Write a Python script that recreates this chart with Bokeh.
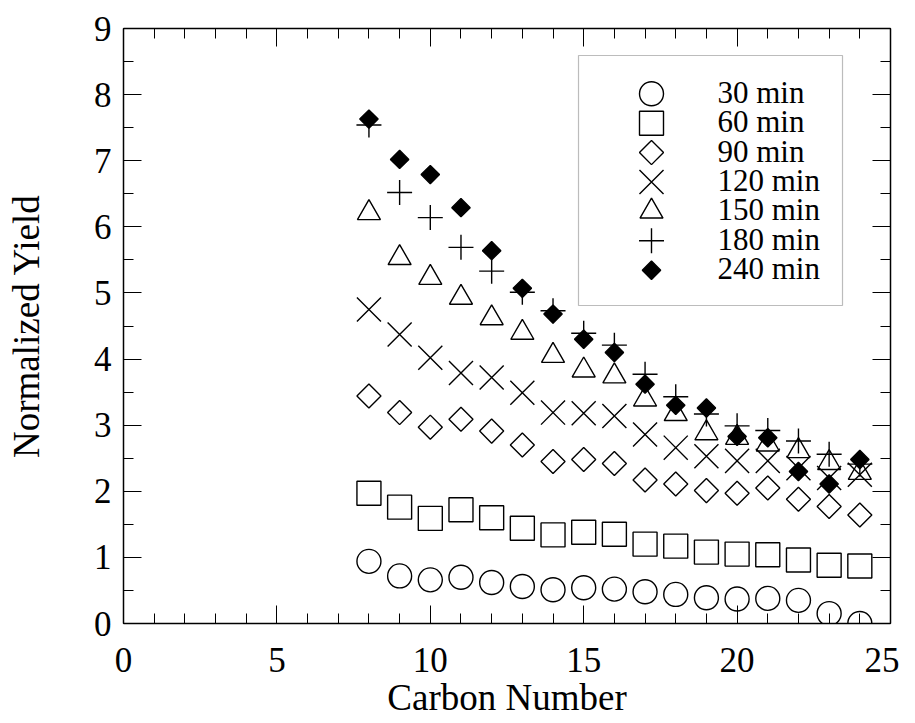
import math
from bokeh.plotting import figure
from bokeh.models import (LinearAxis, SingleIntervalTicker, Range1d, BoxAnnotation)
from bokeh.core.properties import value
from bokeh.embed import file_html
from bokeh.resources import INLINE

carbon = list(range(8, 25))
y30 = [0.94, 0.72, 0.66, 0.70, 0.62, 0.56, 0.51, 0.54, 0.52, 0.48, 0.44, 0.39, 0.37, 0.38, 0.35, 0.15, 0.00]
y60 = [1.97, 1.76, 1.59, 1.72, 1.60, 1.44, 1.34, 1.38, 1.35, 1.20, 1.17, 1.08, 1.05, 1.04, 0.96, 0.88, 0.87]
y90 = [3.44, 3.19, 2.97, 3.09, 2.91, 2.70, 2.45, 2.48, 2.42, 2.17, 2.11, 2.01, 1.97, 2.05, 1.88, 1.77, 1.64]
y120 = [4.75, 4.37, 4.02, 3.79, 3.72, 3.49, 3.19, 3.18, 3.14, 2.86, 2.66, 2.53, 2.46, 2.46, 2.35, 2.20, 2.25]
y150 = [6.21, 5.53, 5.23, 4.93, 4.62, 4.40, 4.05, 3.83, 3.74, 3.39, 3.17, 2.88, 2.81, 2.71, 2.61, 2.43, 2.28]
y180 = [7.54, 6.52, 6.14, 5.69, 5.33, 5.01, 4.73, 4.39, 4.21, 3.77, 3.43, 3.17, 2.99, 2.92, 2.76, 2.56, 2.41]
y240 = [7.63, 7.02, 6.79, 6.29, 5.64, 5.07, 4.68, 4.30, 4.10, 3.62, 3.30, 3.26, 2.83, 2.81, 2.30, 2.11, 2.48]
labels = ["30 min", "60 min", "90 min", "120 min", "150 min", "180 min", "240 min"]

FONT = "'Liberation Serif'"
X0, X1, Y0, Y1 = 0, 25, 0, 9
FW, FH = 767, 595

p = figure(frame_width=FW, frame_height=FH, output_backend="svg", toolbar_location=None,
           x_range=Range1d(X0, X1), y_range=Range1d(Y0, Y1),
           min_border_left=123, min_border_right=9, min_border_top=28, min_border_bottom=84,
           background_fill_color="white", border_fill_color="white")
p.xgrid.visible = False
p.ygrid.visible = False
p.outline_line_color = None

def style_axis(ax, show_labels):
    ax.axis_line_color = "black"
    ax.axis_line_width = 1.5
    ax.major_tick_line_color = "black"
    ax.minor_tick_line_color = "black"
    ax.major_tick_line_width = 1
    ax.minor_tick_line_width = 1
    ax.major_tick_in = 18
    ax.major_tick_out = 0
    ax.minor_tick_in = 10
    ax.minor_tick_out = 0
    ax.major_label_text_font = FONT
    ax.major_label_text_font_size = "35px"
    ax.major_label_text_color = "black"
    ax.axis_label_text_font = FONT
    ax.axis_label_text_font_size = "37px"
    ax.axis_label_text_font_style = "normal"
    ax.axis_label_text_color = "black"
    if not show_labels:
        ax.major_label_text_font_size = "0px"
        ax.major_label_text_color = None

p.xaxis.ticker = SingleIntervalTicker(interval=5, num_minor_ticks=5)
p.yaxis.ticker = SingleIntervalTicker(interval=1, num_minor_ticks=2)
style_axis(p.xaxis[0], True)
style_axis(p.yaxis[0], True)
p.xaxis.axis_label = "Carbon Number"
p.yaxis.axis_label = "Normalized Yield"
p.xaxis.major_label_standoff = 24
p.yaxis.major_label_standoff = 12
p.xaxis.axis_label_standoff = 2
p.yaxis.axis_label_standoff = 44

top = LinearAxis(ticker=SingleIntervalTicker(interval=5, num_minor_ticks=5))
right = LinearAxis(ticker=SingleIntervalTicker(interval=1, num_minor_ticks=2))
style_axis(top, False)
style_axis(right, False)
p.add_layout(top, "above")
p.add_layout(right, "right")

LW = 1.4
styles = [
    dict(marker="circle", size=24, fill_color=None, line_color="black", line_width=LW),
    dict(marker="square", size=24, fill_color=None, line_color="black", line_width=LW),
    dict(marker="square", size=17, angle=math.pi / 4, fill_color=None, line_color="black", line_width=LW),
    dict(marker="x", size=34, line_color="black", line_width=LW),
    dict(marker="triangle", size=23, fill_color=None, line_color="black", line_width=LW),
    dict(marker="cross", size=25, line_color="black", line_width=LW),
    dict(marker="square", size=13, angle=math.pi / 4, fill_color="black", line_color="black", line_width=LW),
]
series = [y30, y60, y90, y120, y150, y180, y240]

for ys, st in zip(series, styles):
    p.scatter(x=carbon, y=ys, **st)

# legend (placed in pixel offsets from the frame, converted to data units)
def dx(px):
    return X0 + px / FW * (X1 - X0)

def dy(py_from_top):
    return Y1 - py_from_top / FH * (Y1 - Y0)

box = BoxAnnotation(left=dx(455), right=dx(719), top=dy(27), bottom=dy(277),
                    fill_color="white", fill_alpha=1.0, line_color="#222222", line_width=1.2,
                    level="underlay")
p.add_layout(box)
row0, rstep = 65.3, 29.4
for i, st in enumerate(styles):
    p.scatter(x=[dx(528)], y=[dy(row0 + i * rstep)], **st)
p.text(x=[dx(594)] * len(labels), y=[dy(row0 + i * rstep - 1.5) for i in range(len(labels))],
       text=labels, text_font=value(FONT), text_font_size="31px", text_color="black",
       text_baseline="middle", text_align="left")

open("out.html", "w").write(file_html(p, INLINE))
